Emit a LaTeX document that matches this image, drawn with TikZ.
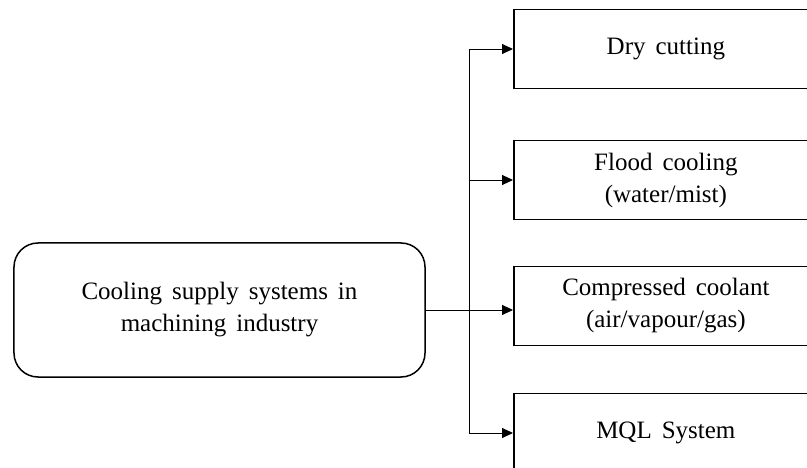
\documentclass[tikz,border=0pt]{standalone}
\usepackage{fontspec}
\setmainfont[WordSpace=1.6]{Liberation Serif}
\usetikzlibrary{arrows.meta}
\begin{document}
\begin{tikzpicture}[x=1bp,y=-1bp,
  every node/.style={font=\fontsize{25bp}{32bp}\selectfont, align=center, inner sep=0pt},
  branch/.style={draw, line width=1.7bp, minimum width=304bp, minimum height=79bp, anchor=west},
  rootbox/.style={draw, line width=1.5bp, rounded corners=24bp, minimum width=411bp, minimum height=134bp},
  link/.style={line width=0.9bp, -{Triangle[length=11bp,width=10bp]}}
]
\useasboundingbox (0,0) rectangle (807,468);
\clip (0,0) rectangle (807,468);
% the source node and the four supply methods
\node[rootbox] (root) at (219.5,310) {Cooling supply systems in\\machining industry};
\node[branch] (dry)   at (513,49)  {Dry cutting};
\node[branch] (flood) at (513,180) {Flood cooling\\(water/mist)};
\node[branch] (comp)  at (513,306) {Compressed coolant\\(air/vapour/gas)};
\node[branch] (mql)   at (513,433) {MQL System};
% shared vertical trunk
\coordinate (jn) at (469,310);
\draw[line width=0.9bp] (root.east) -- (jn);
\draw[link] (jn) |- (dry.west);
\draw[link] (jn) |- (flood.west);
\draw[link] (jn) -- (comp.west |- jn);
\draw[link] (jn) |- (mql.west);
\end{tikzpicture}
\end{document}
